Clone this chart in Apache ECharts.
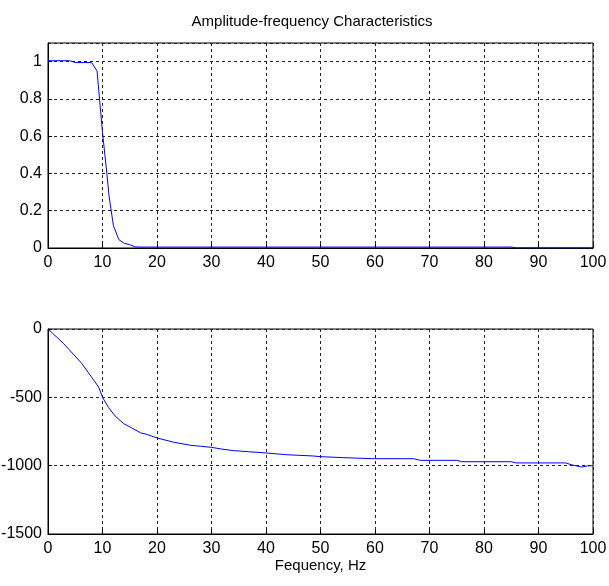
<!DOCTYPE html>
<html>
<head>
<meta charset="utf-8">
<script src="https://cdn.jsdelivr.net/npm/echarts@6/dist/echarts.min.js"></script>
<style>html,body{margin:0;padding:0;background:#fff}#c{width:609px;height:586px}</style>
</head>
<body>
<div id="c"></div>
<script>
var titleText = 'Amplitude-frequency Characteristics';
var xAxisName = 'Fequency, Hz';

var ampFreq = [0, 4, 5, 8, 9, 10, 10.8, 11.2, 12, 13, 14, 15, 16, 17, 85, 86, 100];
var ampValue = [1.005, 1.005, 0.995, 0.995, 0.95, 0.62, 0.4, 0.28, 0.12, 0.045, 0.025, 0.018, 0.006, 0.005, 0.005, 0.001, 0.001];

var phaseFreq = [0, 2.8, 6.2, 9.3, 10, 11.1, 12.3, 13.9, 15.1, 17, 18.2, 20, 23.1, 26.2, 28, 30, 31.8, 34, 36.8, 40, 43.8, 48.6, 50, 54, 59.6, 67.1, 68.3, 75, 75.9, 85, 85.9, 95, 96, 97.9, 99, 100];
var phaseValue = [0, -104, -252, -425, -500, -574, -636, -693, -718, -760, -772, -797, -829, -851, -858, -866, -878, -890, -898, -907, -920, -929, -934, -941, -949, -949, -961, -961, -971, -971, -980, -980, -993, -1010, -1002, -1000];

var xTicks = {min: 0, max: 100, interval: 10};
var ampTicks = {min: 0, max: 1.1, interval: 0.2};
var phaseTicks = {min: -1500, max: 0, interval: 500};

function pairs(xs, ys) { return xs.map(function (x, i) { return [x, ys[i]]; }); }

var font = 'Liberation Sans, Arial, sans-serif';
var labelStyle = {color: '#000', fontSize: 16, fontFamily: font, formatter: function (v) { return String(v); }};
var gridLine = {show: true, lineStyle: {color: '#222', type: [3, 3], width: 1}};
var axisLine = {show: true, onZero: false, lineStyle: {color: '#000', width: 1}};
var tick = {show: true, inside: true, length: 4, lineStyle: {color: '#000'}};

function xAxis(idx, name) {
  var a = {
    type: 'value', gridIndex: idx, min: xTicks.min, max: xTicks.max, interval: xTicks.interval,
    axisLine: axisLine, axisTick: tick, splitLine: gridLine,
    axisLabel: Object.assign({margin: 7}, labelStyle)
  };
  if (name) {
    a.name = name; a.nameLocation = 'middle'; a.nameGap = 22;
    a.nameTextStyle = {color: '#000', fontSize: 15, fontFamily: font, verticalAlign: 'top'};
  }
  return a;
}
function yAxis(idx, t, hideMax) {
  return {
    type: 'value', gridIndex: idx, min: t.min, max: t.max, interval: t.interval,
    axisLine: axisLine, axisTick: tick, splitLine: gridLine,
    axisLabel: Object.assign({margin: 6, showMaxLabel: !hideMax}, labelStyle)
  };
}

var chart = echarts.init(document.getElementById('c'), null, {renderer: 'canvas'});
chart.setOption({
  animation: false,
  backgroundColor: '#fff',
  title: {
    text: titleText, left: 307, top: 9, textAlign: 'center',
    textStyle: {color: '#000', fontSize: 15, fontWeight: 'normal', fontFamily: font}
  },
  grid: [
    {left: 48, right: 16, top: 43, height: 205, show: true, borderColor: '#000', borderWidth: 1, containLabel: false, outerBoundsMode: 'none'},
    {left: 48, right: 16, top: 329, height: 205, show: true, borderColor: '#000', borderWidth: 1, containLabel: false, outerBoundsMode: 'none'}
  ],
  xAxis: [xAxis(0), xAxis(1, xAxisName)],
  yAxis: [yAxis(0, ampTicks, true), yAxis(1, phaseTicks, false)],
  series: [
    {type: 'line', xAxisIndex: 0, yAxisIndex: 0, data: pairs(ampFreq, ampValue), showSymbol: false,
     lineStyle: {color: '#0000ff', width: 1}, z: 5},
    {type: 'line', xAxisIndex: 1, yAxisIndex: 1, data: pairs(phaseFreq, phaseValue), showSymbol: false,
     lineStyle: {color: '#0000ff', width: 1}, z: 5}
  ]
});
</script>
</body>
</html>
